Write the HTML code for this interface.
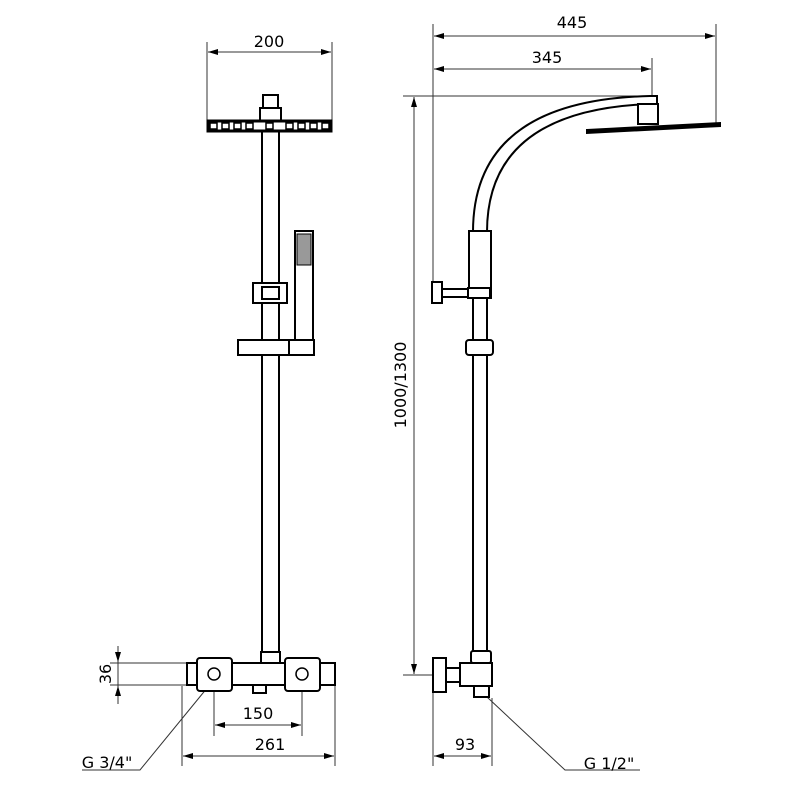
<!DOCTYPE html>
<html><head><meta charset="utf-8"><style>html,body{margin:0;padding:0;background:#fff}svg{display:block}</style></head>
<body>
<svg width="800" height="800" viewBox="0 0 800 800" xmlns="http://www.w3.org/2000/svg" font-family="'DejaVu Sans','Liberation Sans',sans-serif" font-size="16" fill="none" stroke="#000">
<defs>
<marker id="a" viewBox="0 0 10 6" refX="10" refY="3" markerWidth="10" markerHeight="6" orient="auto-start-reverse"><path d="M0,0L10,3L0,6z" fill="#000" stroke="none"/></marker>
</defs>
<g stroke-width="1" stroke="#333">
<line x1="207" y1="42" x2="207" y2="120"/><line x1="332" y1="42" x2="332" y2="120"/>
<line x1="208" y1="52" x2="331" y2="52" marker-start="url(#a)" marker-end="url(#a)"/>
<line x1="433" y1="24" x2="433" y2="290"/>
<line x1="716" y1="24" x2="716" y2="125"/>
<line x1="434" y1="36" x2="715" y2="36" marker-start="url(#a)" marker-end="url(#a)"/>
<line x1="652" y1="58" x2="652" y2="100"/>
<line x1="434" y1="69" x2="651" y2="69" marker-start="url(#a)" marker-end="url(#a)"/>
<line x1="403" y1="96" x2="650" y2="96"/>
<line x1="403" y1="675" x2="432" y2="675"/>
<line x1="414" y1="97" x2="414" y2="674" marker-start="url(#a)" marker-end="url(#a)"/>
<line x1="110" y1="663" x2="187" y2="663"/><line x1="110" y1="685" x2="187" y2="685"/>
<line x1="118" y1="646" x2="118" y2="662" marker-end="url(#a)"/>
<line x1="118" y1="704" x2="118" y2="686" marker-end="url(#a)"/>
<line x1="118" y1="662" x2="118" y2="686"/>
<line x1="214" y1="680" x2="214" y2="736"/><line x1="302" y1="680" x2="302" y2="736"/>
<line x1="215" y1="725" x2="301" y2="725" marker-start="url(#a)" marker-end="url(#a)"/>
<line x1="182" y1="686" x2="182" y2="766"/><line x1="335" y1="686" x2="335" y2="766"/>
<line x1="183" y1="756" x2="334" y2="756" marker-start="url(#a)" marker-end="url(#a)"/>
<line x1="433" y1="692" x2="433" y2="766"/><line x1="492" y1="698" x2="492" y2="766"/>
<line x1="434" y1="756" x2="491" y2="756" marker-start="url(#a)" marker-end="url(#a)"/>
<polyline points="212,682 140,770 82,770"/>
<polyline points="487,697 565,770 640,770"/>
</g>
<g fill="#000" stroke="none" text-anchor="middle">
<text x="269" y="47">200</text>
<text x="572" y="28">445</text>
<text x="547" y="63">345</text>
<text x="258" y="719">150</text>
<text x="270" y="750">261</text>
<text x="465" y="750">93</text>
<text x="107" y="768">G 3/4"</text>
<text x="609" y="769">G 1/2"</text>
<text transform="translate(406,385) rotate(-90)">1000/1300</text>
<text transform="translate(111,674) rotate(-90)">36</text>
</g>
<g stroke-width="2" fill="#fff">
<rect x="262" y="130" width="17" height="523"/>
<rect x="263" y="95" width="15" height="14"/>
<rect x="260" y="108" width="21" height="13"/>
<rect x="208" y="121" width="123" height="10" stroke-width="3"/>
<rect x="253" y="283" width="34" height="20"/>
<rect x="262" y="287" width="17" height="12"/>
<rect x="295" y="231" width="18" height="124"/>
<rect x="297" y="234" width="14" height="31" fill="#999" stroke-width="1"/>
<rect x="238" y="340" width="51" height="15"/>
<rect x="289" y="340" width="25" height="15"/>
<rect x="261" y="652" width="19" height="11"/>
<rect x="187" y="663" width="148" height="22"/>
<rect x="197" y="658" width="35" height="33" rx="3"/>
<rect x="285" y="658" width="35" height="33" rx="3"/>
<rect x="253" y="685" width="13" height="8"/>
<circle cx="214" cy="674" r="6" stroke-width="1.5"/>
<circle cx="302" cy="674" r="6" stroke-width="1.5"/>
</g>
<g fill="#fff" stroke-width="1.5">
<rect x="210" y="123" width="7" height="6"/><rect x="222" y="123" width="7" height="6"/><rect x="234" y="123" width="7" height="6"/><rect x="246" y="123" width="7" height="6"/><rect x="266" y="123" width="7" height="6"/><rect x="286" y="123" width="7" height="6"/><rect x="298" y="123" width="7" height="6"/><rect x="310" y="123" width="7" height="6"/><rect x="322" y="123" width="7" height="6"/>
</g>
<g stroke-width="2" fill="#fff">
<path d="M473,232 Q473,100 650,96 L657,96 L657,104 L650,104 Q487,110 487,232" />
<rect x="638" y="104" width="20" height="20"/>
<path d="M587,130 L720,123 L720,126 L587,133 Z" fill="#000"/>
<rect x="473" y="232" width="14" height="420"/>
<rect x="469" y="231" width="22" height="67"/>
<rect x="441" y="289" width="29" height="8"/>
<rect x="432" y="282" width="10" height="21"/>
<rect x="468" y="288" width="22" height="10"/>
<rect x="466" y="340" width="27" height="15" rx="3"/>
<rect x="471" y="651" width="20" height="12" rx="2"/>
<rect x="460" y="663" width="32" height="23"/>
<rect x="474" y="686" width="15" height="11"/>
<rect x="446" y="668" width="14" height="14"/>
<rect x="433" y="658" width="13" height="34"/>
</g>
</svg>
</body></html>
